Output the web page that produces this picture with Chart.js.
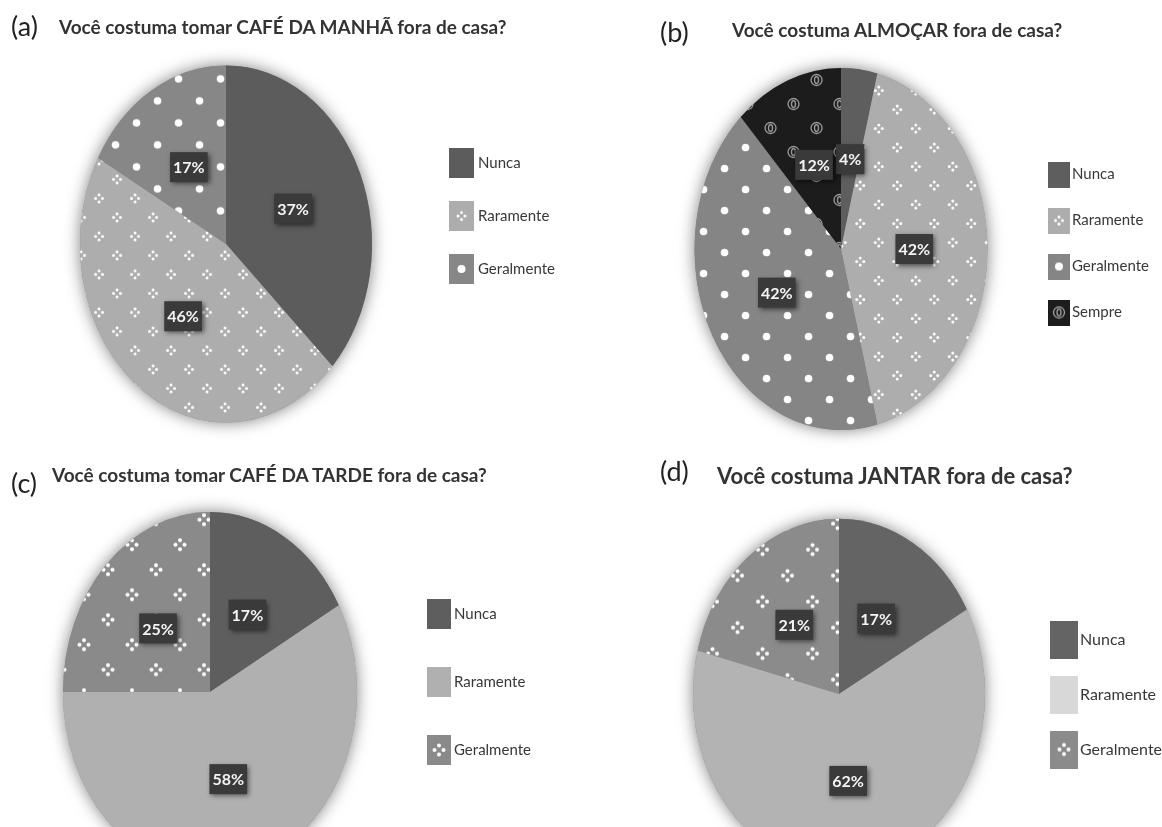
<!DOCTYPE html>
<html lang="pt">
<head>
<meta charset="UTF-8">
<title>Refeições fora de casa</title>
<script src="https://cdn.jsdelivr.net/npm/chart.js@4.4.1/dist/chart.umd.min.js"></script>
<style>
  html, body { margin: 0; background: #fff; overflow: hidden; }
  body { width: 1162px; height: 827px; position: relative; font-family: Lato, sans-serif; }
  canvas { position: absolute; left: 0; top: 0; }
  .tag, .q { position: absolute; white-space: nowrap; line-height: 1; z-index: 2; }
  .tag { font-size: 27px; color: #222; }
  .q { font-weight: bold; font-size: 19px; color: #333; }
</style>
</head>
<body>
<canvas id="chartA" width="1162" height="900"></canvas>
<canvas id="chartB" width="1162" height="900"></canvas>
<canvas id="chartC" width="1162" height="900"></canvas>
<canvas id="chartD" width="1162" height="900"></canvas>

<div class="tag" style="left:11px;top:12px">(a)</div>
<div class="q" style="left:59px;top:17px">Você costuma tomar CAFÉ DA MANHÃ fora de casa?</div>
<div class="tag" style="left:660px;top:18px">(b)</div>
<div class="q" style="left:732px;top:20px">Você costuma ALMOÇAR fora de casa?</div>
<div class="tag" style="left:11px;top:469px">(c)</div>
<div class="q" style="left:52px;top:465px">Você costuma tomar CAFÉ DA TARDE fora de casa?</div>
<div class="tag" style="left:660px;top:457px">(d)</div>
<div class="q" style="left:717px;top:465px;font-size:22px">Você costuma JANTAR fora de casa?</div>

<script>
  // answers (percent of respondents)
  const answers3 = ['Nunca', 'Raramente', 'Geralmente'];
  const answers4 = ['Nunca', 'Raramente', 'Geralmente', 'Sempre'];
  const cafeManha = [37, 46, 17];
  const almoco = [4, 42, 42, 12];
  const cafeTarde = [17, 58, 25];
  const jantar = [17, 62, 21];

  const FONT = 'Lato, sans-serif';

  // fill marks used by the grey pattern fills
  const DOT = { type: 'dot', r: 3.8 };
  const DIAMOND = { type: 'diamond', s: 3.5, r: 1.5 };
  const DIAMOND_BIG = { type: 'diamond', s: 4.5, r: 2 };
  const ZERO = { type: 'zero' };

  function drawMark(g, m, x, y) {
    g.save();
    if (m.type === 'dot') {
      g.fillStyle = '#fff';
      g.beginPath(); g.arc(x, y, m.r, 0, Math.PI * 2); g.fill();
    } else if (m.type === 'diamond') {
      g.fillStyle = '#fff';
      [[0, -m.s], [m.s, 0], [0, m.s], [-m.s, 0]].forEach(([dx, dy]) => {
        g.beginPath(); g.arc(x + dx, y + dy, m.r, 0, Math.PI * 2); g.fill();
      });
    } else if (m.type === 'zero') {
      g.strokeStyle = '#a2a2a2';
      g.lineWidth = 1.3;
      g.beginPath(); g.arc(x, y, 5.5, 0, Math.PI * 2); g.stroke();
      g.beginPath(); g.ellipse(x, y, 2, 3.4, 0, 0, Math.PI * 2); g.stroke();
    }
    g.restore();
  }

  function tile(color, mark, w, h) {
    const c = document.createElement('canvas');
    c.width = w; c.height = h;
    const g = c.getContext('2d');
    g.fillStyle = color;
    g.fillRect(0, 0, w, h);
    if (mark) {
      drawMark(g, mark, w / 4, h / 4);
      drawMark(g, mark, 3 * w / 4, 3 * h / 4);
    }
    return c;
  }

  function icon(color, mark, w, h) {
    const c = document.createElement('canvas');
    c.width = w; c.height = h;
    const g = c.getContext('2d');
    g.fillStyle = color;
    g.fillRect(0, 0, w, h);
    if (mark) drawMark(g, mark.type === 'dot' ? { type: 'dot', r: 4 } : mark, w / 2, h / 2);
    return c;
  }

  // squash the round pie into the tall ellipse of the original and put value boxes on it
  const ovalPie = {
    id: 'ovalPie',
    beforeDatasetsDraw(chart, args, o) {
      const arc = chart.getDatasetMeta(0).data[0];
      const ctx = chart.ctx;
      ctx.save();
      ctx.translate(arc.x, o.cy);
      ctx.scale(1, o.sy);
      ctx.translate(-arc.x, -arc.y);
      ctx.save();
      ctx.shadowColor = 'rgba(0,0,0,0.5)';
      ctx.shadowBlur = 16;
      ctx.fillStyle = '#8a8a8a';
      ctx.beginPath();
      ctx.arc(arc.x, arc.y, arc.outerRadius, 0, Math.PI * 2);
      ctx.fill();
      ctx.restore();
    },
    afterDatasetsDraw(chart, args, o) {
      const ctx = chart.ctx;
      ctx.restore();
      const meta = chart.getDatasetMeta(0);
      const values = chart.data.datasets[0].data;
      ctx.save();
      ctx.font = 'bold 16px ' + FONT;
      ctx.textAlign = 'center';
      ctx.textBaseline = 'middle';
      meta.data.forEach((arc, i) => {
        if (!chart.getDataVisibility(i)) return;
        const p = arc.tooltipPosition();
        const x = p.x;
        const y = o.cy + (p.y - arc.y) * o.sy;
        const text = values[i] + '%';
        const w = ctx.measureText(text).width + 6;
        const h = 30;
        ctx.save();
        ctx.shadowColor = 'rgba(0,0,0,0.55)';
        ctx.shadowBlur = 5;
        ctx.shadowOffsetX = 2;
        ctx.shadowOffsetY = 2;
        ctx.fillStyle = '#3a3a3a';
        ctx.fillRect(x - w / 2, y - h / 2, w, h);
        ctx.restore();
        ctx.fillStyle = '#f4f4f4';
        ctx.fillText(text, x, y + 1);
      });
      ctx.restore();
    }
  };

  function makeChart(id, labels, values, p) {
    const canvas = document.getElementById(id);
    const ctx = canvas.getContext('2d');
    const backgrounds = p.fills.map(f => {
      if (!f.mark) return f.color;
      const pat = ctx.createPattern(tile(f.color, f.mark, f.tw, f.th), 'repeat');
      pat.setTransform(new DOMMatrix([1, 0, 0, 1 / p.sy, 0, 0]));
      return pat;
    });
    const icons = p.fills.map(f => icon(f.legend || f.color, f.mark, p.icon[0], p.icon[1]));
    const psw = p.icon[0] + 2 * p.gap - p.fontSize;

    const chart = new Chart(ctx, {
      type: 'pie',
      data: {
        labels: labels,
        datasets: [{
          data: values,
          backgroundColor: backgrounds,
          borderWidth: 0,
          hoverOffset: 0,
          clip: false
        }]
      },
      options: {
        responsive: false,
        animation: false,
        layout: { padding: 0 },
        plugins: {
          tooltip: { enabled: false },
          ovalPie: { cy: p.cy, sy: p.sy },
          legend: {
            position: 'right',
            maxWidth: 400,
            labels: {
              usePointStyle: true,
              pointStyleWidth: psw,
              padding: p.legendPad,
              color: '#383838',
              font: { family: FONT, size: p.fontSize },
              generateLabels: ch => ch.data.labels.map((text, i) => ({
                text: text,
                pointStyle: icons[i],
                fillStyle: p.fills[i].color,
                strokeStyle: 'rgba(0,0,0,0)',
                lineWidth: 0,
                fontColor: '#383838',
                hidden: !ch.getDataVisibility(i),
                index: i
              }))
            }
          }
        }
      },
      plugins: [ovalPie]
    });

    // pie centred on p.cx with radius p.r, legend squares starting at p.legendX
    const legendLeft = p.legendX + (p.icon[0] - psw) / 2 - p.legendPad;
    chart.options.layout.padding = {
      left: 2 * p.cx - legendLeft,
      right: chart.width - legendLeft - chart.legend.width,
      top: p.legendY - p.r,
      bottom: chart.height - p.legendY - p.r
    };
    chart.update('none');
    return chart;
  }

  makeChart('chartA', answers3, cafeManha, {
    cx: 226, cy: 244, r: 146, sy: 1.223,
    legendX: 449, legendY: 216, legendPad: 38, fontSize: 15, icon: [25, 30], gap: 4,
    fills: [
      { color: '#5c5c5c' },
      { color: '#adadad', mark: DIAMOND, tw: 36, th: 38 },
      { color: '#878787', mark: DOT, tw: 42, th: 44 }
    ]
  });

  makeChart('chartB', answers4, almoco, {
    cx: 841, cy: 249, r: 146.5, sy: 1.236,
    legendX: 1048, legendY: 243.5, legendPad: 31, fontSize: 15, icon: [22, 26], gap: 2,
    fills: [
      { color: '#5e5e5e' },
      { color: '#adadad', mark: DIAMOND, tw: 37, th: 38 },
      { color: '#858585', mark: DOT, tw: 42, th: 42 },
      { color: '#1c1c1c', mark: ZERO, tw: 46, th: 48 }
    ]
  });

  makeChart('chartC', answers3, cafeTarde, {
    cx: 210, cy: 692, r: 147, sy: 1.224,
    legendX: 427, legendY: 682, legendPad: 53, fontSize: 15, icon: [24, 30], gap: 3,
    fills: [
      { color: '#5e5e5e' },
      { color: '#b0b0b0' },
      { color: '#8a8a8a', mark: DIAMOND_BIG, tw: 48, th: 50 }
    ]
  });

  makeChart('chartD', answers3, jantar, {
    cx: 839, cy: 694, r: 146, sy: 1.2,
    legendX: 1050, legendY: 694.5, legendPad: 39, fontSize: 16, icon: [28, 38], gap: 2,
    fills: [
      { color: '#646464' },
      { color: '#b3b3b3', legend: '#d8d8d8' },
      { color: '#8b8b8b', mark: DIAMOND_BIG, tw: 50, th: 52 }
    ]
  });
</script>
</body>
</html>
